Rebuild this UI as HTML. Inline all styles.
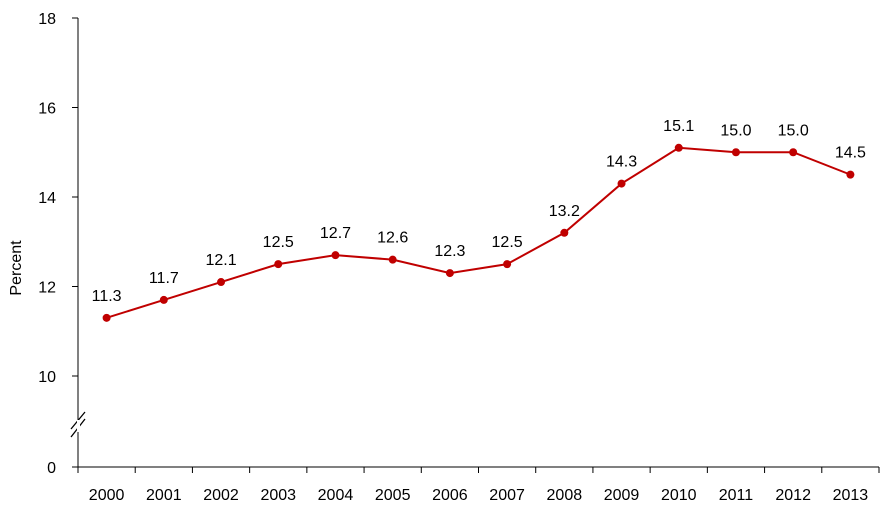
<!DOCTYPE html>
<html><head><meta charset="utf-8"><style>
body{margin:0;background:#fff}
svg{display:block;font-family:"Liberation Sans",sans-serif}
</style></head><body>
<svg id="c" width="896" height="507"></svg>
<script>
const categories=["2000","2001","2002","2003","2004","2005","2006","2007","2008","2009","2010","2011","2012","2013"];
const values=[11.3,11.7,12.1,12.5,12.7,12.6,12.3,12.5,13.2,14.3,15.1,15.0,15.0,14.5];
const yTicks=[10,12,14,16,18];
const svg=document.getElementById('c');
const NS='http://www.w3.org/2000/svg';
const x0=78,x1=879,bw=(x1-x0)/categories.length;
function xs(i){return x0+bw*(i+0.5);}
function ys(v){return 376-(v-10)*44.75;}
function mk(t,a,txt){const e=document.createElementNS(NS,t);for(const k in a)e.setAttribute(k,a[k]);if(txt!==undefined)e.textContent=txt;svg.appendChild(e);return e;}
let e;
e=mk('line',{x1:x0,y1:ys(18),x2:x0,y2:467,stroke:'#000','stroke-width':1});


e=mk('line',{x1:x0,y1:467,x2:x1,y2:467,stroke:'#000','stroke-width':1});


yTicks.forEach(v=>{
 const y=ys(v);
 e=mk('line',{x1:72,y1:y,x2:x0,y2:y,stroke:'#000'});
 
 
 e=mk('text',{x:56,y:y+6,'text-anchor':'end','font-size':16,fill:'#000'},String(v));
 
 
});
e=mk('line',{x1:72,y1:467,x2:x0,y2:467,stroke:'#000'});


e=mk('text',{x:56,y:473,'text-anchor':'end','font-size':16,fill:'#000'},'0');


e=mk('path',{d:'M71,437 L85,419 M71,429 L85,412',stroke:'#000','stroke-width':1.3,fill:'none'});


e=mk('rect',{x:77,y:420,width:3,height:12,fill:'#fff'});


for(let i=0;i<=categories.length;i++){
 e=mk('line',{x1:x0+bw*i,y1:467,x2:x0+bw*i,y2:473,stroke:'#000'});
 
 
}
categories.forEach((c,i)=>{
 e=mk('text',{x:xs(i),y:500,'text-anchor':'middle','font-size':16,fill:'#000'},c);
 
 
});
e=mk('text',{x:0,y:0,transform:'translate(21,268) rotate(-90)','text-anchor':'middle','font-size':16,fill:'#000'},'Percent');


e=mk('polyline',{points:values.map((v,i)=>xs(i)+','+ys(v)).join(' '),fill:'none',stroke:'#c00000','stroke-width':2});


values.forEach((v,i)=>{
 e=mk('circle',{cx:xs(i),cy:ys(v),r:4,fill:'#c00000'});
 
 
 e=mk('text',{x:xs(i),y:ys(v)-17,'text-anchor':'middle','font-size':16,fill:'#000'},v.toFixed(1));
 
 
});
</script>
</body></html>
